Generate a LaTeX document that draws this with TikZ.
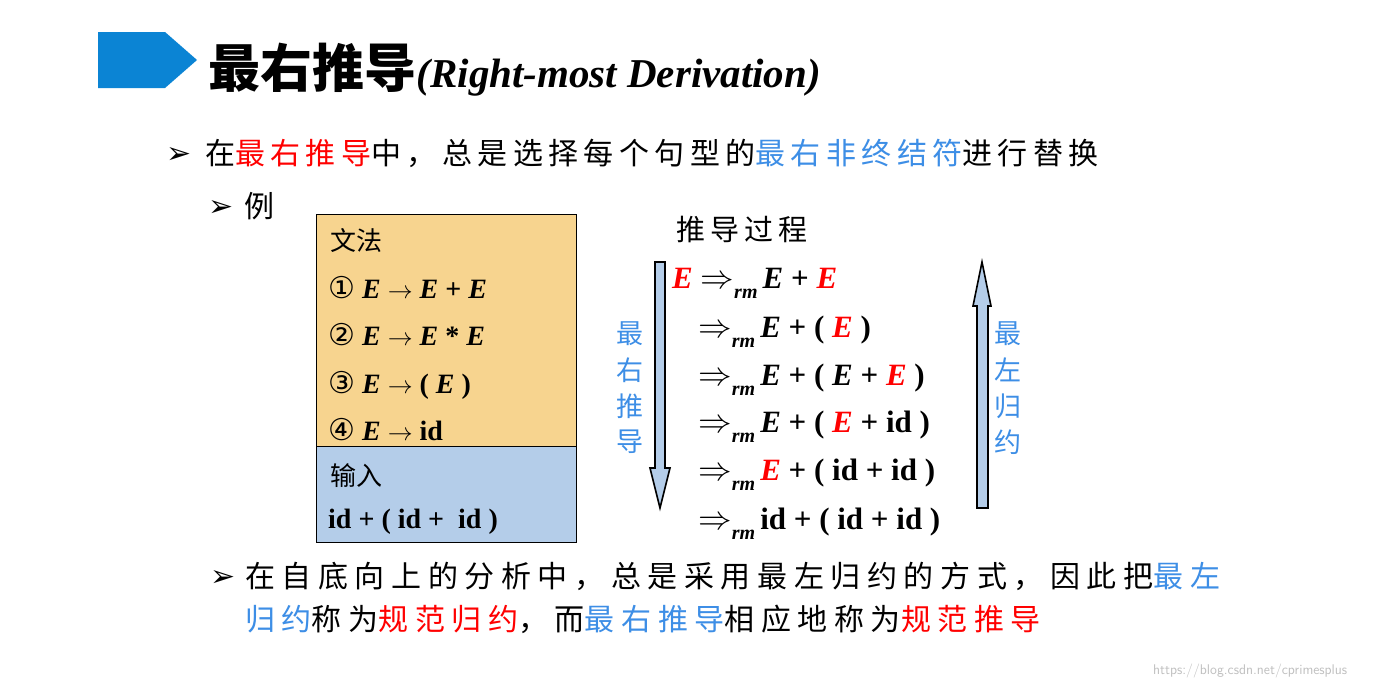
\documentclass[tikz,border=0pt]{standalone}
\usepackage{fontspec}
\usepackage{graphicx}
\setmainfont{Liberation Serif}
\newfontfamily\cjk{Noto Sans CJK SC}
\newfontfamily\cjks[LetterSpace=18]{Noto Sans CJK SC}
\newfontfamily\cjkw[LetterSpace=22]{Noto Sans CJK SC}
\newfontfamily\dejavu{DejaVu Sans}
\definecolor{titleblue}{HTML}{0B84D4}
\definecolor{hlblue}{HTML}{3D8EE6}
\definecolor{boxorange}{HTML}{F7D48F}
\definecolor{boxblue}{HTML}{B4CDE9}
\newcommand{\rr}[1]{\textcolor{red}{#1}}
\newcommand{\bb}[1]{\textcolor{hlblue}{#1}}
\newcommand{\drv}{\scalebox{1.35}{$\Rightarrow$}\raisebox{-0.35em}{\fontsize{20}{20}\selectfont\textit{rm}}\,}
\begin{document}
\begin{tikzpicture}[x=1pt,y=-1pt,
  txt/.style={anchor=base west,inner sep=0pt},
  body/.style={txt,font=\fontsize{30}{30}\selectfont\cjks},
  bodyw/.style={txt,font=\fontsize{30}{30}\selectfont\cjkw},
  frm/.style={txt,font=\fontsize{31}{31}\selectfont\bfseries},
  gram/.style={txt,font=\fontsize{28}{28}\selectfont\bfseries},
  arr/.style={txt,font=\fontsize{30}{30}\selectfont\dejavu},
  vlab/.style={font=\fontsize{27}{27}\selectfont\cjk\color{hlblue},inner sep=0pt},
  bigarrow/.style={draw=black,line width=1.6pt,fill=boxblue}]
\useasboundingbox (0,0) rectangle (1394,688);
\fill[white] (0,0) rectangle (1394,688);
% title
\fill[titleblue] (98,32) -- (165,32) -- (197,60) -- (165,88) -- (98,88) -- cycle;
\node[txt,font=\fontsize{52}{52}\selectfont\cjk\bfseries] (title) at (208,87) {最右推导};
\node[txt,font=\fontsize{41}{41}\selectfont\bfseries\itshape,anchor=base west] (titlee) at (title.base east) {(Right-most Derivation)};
% bullets
\node[arr] (b1) at (166,163) {➢};
\node[body] (l1) at (205,164) {在\rr{最右推导}中，总是选择每个句型的\bb{最右非终结符}进行替换};
\node[arr] (b2) at (208,216) {➢};
\node[body] (l2) at (244,217) {例};
% grammar box
\draw[fill=boxorange,line width=1pt] (316,214) rectangle (576,446);
\draw[fill=boxblue,line width=1pt] (316,446) rectangle (576,542);
\node[txt,font=\fontsize{26}{26}\selectfont\cjk] (g0) at (330,250) {文法};
\node[gram] (g1) at (328,298) {{\dejavu\mdseries\fontsize{30}{30}\selectfont ①} \textit{E} $\rightarrow$ \textit{E} + \textit{E}};
\node[gram] (g2) at (328,345) {{\dejavu\mdseries\fontsize{30}{30}\selectfont ②} \textit{E} $\rightarrow$ \textit{E} * \textit{E}};
\node[gram] (g3) at (328,393) {{\dejavu\mdseries\fontsize{30}{30}\selectfont ③} \textit{E} $\rightarrow$ ( \textit{E} )};
\node[gram] (g4) at (328,440) {{\dejavu\mdseries\fontsize{30}{30}\selectfont ④} \textit{E} $\rightarrow$ id};
\node[txt,font=\fontsize{26}{26}\selectfont\cjk] (in0) at (330,485) {输入};
\node[gram] (in1) at (328,528) {id + ( id +\ \ id )};
% derivation
\node[txt,font=\fontsize{29}{29}\selectfont\cjks] (dt) at (676,240) {推导过程};
\node[frm] (d1) at (672,288) {\rr{\textit{E}} \drv\textit{E} + \rr{\textit{E}}};
\node[frm] (d2) at (698,337) {\drv\textit{E} + ( \rr{\textit{E}} )};
\node[frm] (d3) at (698,385) {\drv\textit{E} + ( \textit{E} + \rr{\textit{E}} )};
\node[frm] (d4) at (698,432) {\drv\textit{E} + ( \rr{\textit{E}} + id )};
\node[frm] (d5) at (698,480) {\drv\rr{\textit{E}} + ( id + id )};
\node[frm] (d6) at (698,529) {\drv id + ( id + id )};
% arrows
\draw[bigarrow] (655,262) -- (665,262) -- (665,468) -- (670,468) -- (660,508) -- (650,468) -- (655,468) -- cycle;
\draw[bigarrow] (977,508) -- (988,508) -- (988,306) -- (991,306) -- (982,262) -- (973,306) -- (977,306) -- cycle;
\node[vlab] (v1) at (630,334) {最};
\node[vlab] (v2) at (630,370) {右};
\node[vlab] (v3) at (630,406) {推};
\node[vlab] (v4) at (630,442) {导};
\node[vlab] (u1) at (1008,334) {最};
\node[vlab] (u2) at (1008,370) {左};
\node[vlab] (u3) at (1008,406) {归};
\node[vlab] (u4) at (1008,442) {约};
% bottom bullet
\node[arr] (b3) at (210,586) {➢};
\node[bodyw] (l3) at (245,587) {在自底向上的分析中，总是采用最左归约的方式，因此把\bb{最左}};
\node[bodyw] (l4) at (245,630) {\bb{归约}称为\rr{规范归约}，而\bb{最右推导}相应地称为\rr{规范推导}};
\node[txt,font=\fontsize{14}{14}\selectfont\sffamily,text=black!25] (wm) at (1153,674) {https://blog.csdn.net/cprimesplus};
\end{tikzpicture}
\end{document}
